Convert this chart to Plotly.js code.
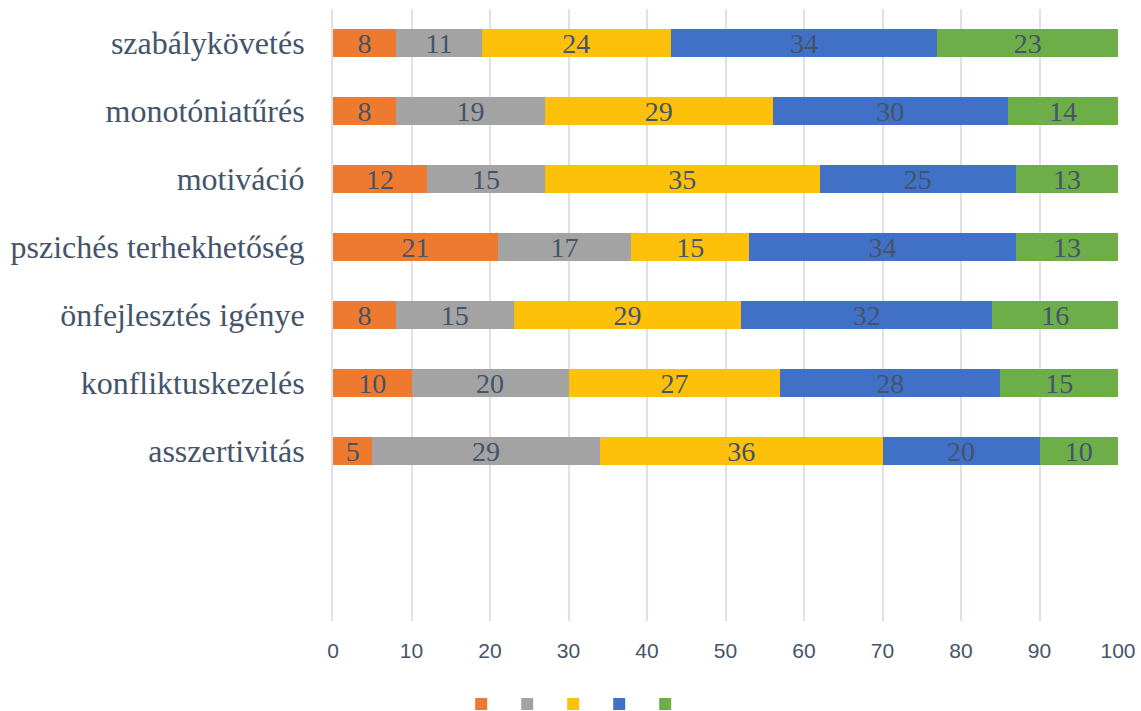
<!DOCTYPE html>
<html>
<head>
<meta charset="utf-8">
<script src="https://cdn.plot.ly/plotly-3.0.1.min.js"></script>
<style>html,body{margin:0;padding:0;background:#fff;}#chart{width:1141px;height:711px;}</style>
</head>
<body>
<div id="chart"></div>
<script>
const categories = ["szabálykövetés","monotóniatűrés","motiváció","pszichés terhekhetőség","önfejlesztés igénye","konfliktuskezelés","asszertivitás"];
const series1 = [8, 8, 12, 21, 8, 10, 5];
const series2 = [11, 19, 15, 17, 15, 20, 29];
const series3 = [24, 29, 35, 15, 29, 27, 36];
const series4 = [34, 30, 25, 34, 32, 28, 20];
const series5 = [23, 14, 13, 13, 16, 15, 10];
const xTicks = [0,10,20,30,40,50,60,70,80,90,100];

const colors = ["#EE7A2F", "#A3A3A3", "#FDC10A", "#4171C6", "#6DAE48"];
const allSeries = [series1, series2, series3, series4, series5];
const names = [" ", "  ", "   ", "    ", "     "];

const traces = allSeries.map((vals, i) => ({
  type: "bar",
  orientation: "h",
  y: categories,
  x: vals,
  name: names[i],
  marker: {color: colors[i], line: {width: 0}},
  text: vals.map(String),
  texttemplate: "%{text}",
  textposition: "inside",
  insidetextanchor: "middle",
  textangle: 0,
  constraintext: "none",
  textfont: {family: "Liberation Serif, Times New Roman, serif", size: 28, color: "#44546A"},
  hoverinfo: "x+y"
}));

const layout = {
  width: 1141, height: 711,
  margin: {l: 333, r: 23, t: 9, b: 90},
  paper_bgcolor: "#fff", plot_bgcolor: "#fff",
  barmode: "stack",
  bargap: 0.59,
  showlegend: true,
  legend: {
    orientation: "h", xref: "container", yref: "container",
    x: 0.505, xanchor: "center", y: 0.01, yanchor: "middle",
    font: {size: 2, color: "#44546A"},
    entrywidth: 1, entrywidthmode: "pixels",
    itemwidth: 30, traceorder: "normal"
  },
  xaxis: {
    range: [0, 100],
    tickvals: xTicks,
    ticktext: xTicks.map(String),
    showgrid: true, gridcolor: "#DDE2EA", gridwidth: 2,
    zeroline: false, showline: false,
    ticks: "outside", ticklen: 11, tickcolor: "rgba(0,0,0,0)",
    tickfont: {family: "Liberation Sans Narrow, Arial Narrow, Liberation Sans, sans-serif", size: 21, color: "#44546A"},
    fixedrange: true
  },
  yaxis: {
    type: "category",
    categoryorder: "array", categoryarray: categories,
    range: [8.5, -0.5],
    showgrid: false, zeroline: false,
    showline: true, linecolor: "#DDE2EA", linewidth: 2,
    ticks: "outside", ticklen: 20, tickcolor: "rgba(0,0,0,0)",
    tickfont: {family: "Liberation Serif, Times New Roman, serif", size: 32, color: "#44546A"},
    fixedrange: true
  }
};

Plotly.newPlot("chart", traces, layout, {displayModeBar: false, staticPlot: true});
</script>
</body>
</html>
